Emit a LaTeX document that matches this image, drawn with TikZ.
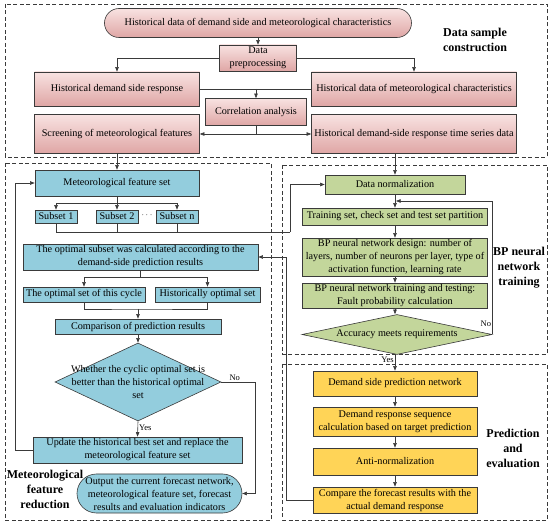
\documentclass[tikz,border=0pt]{standalone}
\usepackage{fontspec}
\setmainfont{Liberation Serif}
\usepackage{xcolor}
\definecolor{cLine}{HTML}{3A3A3A}
\definecolor{cPinkL}{HTML}{F8E2E1}
\definecolor{cPinkD}{HTML}{DFA6A5}
\definecolor{cBlue}{HTML}{93CDDD}
\definecolor{cGreen}{HTML}{C3D69B}
\definecolor{cYellow}{HTML}{FFD457}
\usepackage{tikz}
\usetikzlibrary{positioning,arrows.meta,shapes.geometric,calc}
\tikzset{
  node-base/.style={draw=cLine,line width=0.6pt,align=center,inner sep=1pt,
    font=\fontsize{10.2}{13}\selectfont},
  node-pink/.style={node-base,top color=cPinkL,bottom color=cPinkD},
  node-blue/.style={node-base,fill=cBlue},
  node-green/.style={node-base,fill=cGreen},
  node-yellow/.style={node-base,fill=cYellow},
  node-diamond/.style={diamond,inner sep=0pt},
  node-text/.style={align=center,inner sep=0pt,font=\fontsize{10.2}{13}\selectfont},
  group-box/.style={dashed,line width=0.8pt,draw=cLine,dash pattern=on 4pt off 2.5pt},
  group-label/.style={align=center,font=\fontsize{12}{15}\selectfont\bfseries},
  arrow/.style={-{Triangle[length=1.6mm,width=1.2mm]},line width=0.6pt,draw=cLine},
  link/.style={line width=0.6pt,draw=cLine},
  tag/.style={font=\fontsize{8.5}{9}\selectfont,inner sep=1pt},
}

\begin{document}
\begin{tikzpicture}[x=1pt,y=-1pt]
  \useasboundingbox (0,0) rectangle (550,524);
  % dashed groups
  \draw[group-box] (5,4) rectangle (547,157);
  \draw[group-box] (5,163) rectangle (271,520);
  \draw[group-box] (282,165) rectangle (547,354);
  \draw[group-box] (282,364) rectangle (547,520);
  \node[group-label] (lbl-data) at (475,40) {Data sample\\construction};
  \node[group-label] (lbl-bp) at (519,268) {BP neural\\network\\training};
  \node[group-label] (lbl-pred) at (513,448) {Prediction\\and\\evaluation};
  \node[group-label] (lbl-red) at (45,489) {Meteorological\\feature\\reduction};

  % data sample construction
  \node[node-pink,rounded corners=14.5pt,minimum width=307pt,minimum height=29pt] (hist-all) at (258,23)
    {Historical data of demand side and meteorological characteristics};
  \node[node-pink,minimum width=77pt,minimum height=26pt] (prep) at (258,58) {Data\\preprocessing};
  \node[node-pink,minimum width=165pt,minimum height=34pt] (hist-dsr) at (117,89) {Historical demand side response};
  \node[node-pink,minimum width=205pt,minimum height=34pt] (hist-met) at (414,89) {Historical data of meteorological characteristics};
  \node[node-pink,minimum width=101pt,minimum height=27pt] (corr) at (256,112) {Correlation analysis};
  \node[node-pink,minimum width=165pt,minimum height=39pt] (screen) at (117,134) {Screening of meteorological features};
  \node[node-pink,minimum width=205pt,minimum height=39pt] (series) at (414,134) {Historical demand-side response time series data};

  % meteorological feature reduction
  \node[node-blue,minimum width=164pt,minimum height=26pt] (featset) at (117,183) {Meteorological feature set};
  \node[node-blue,minimum width=42pt,minimum height=13pt] (sub1) at (56,216.5) {Subset 1};
  \node[node-blue,minimum width=42pt,minimum height=13pt] (sub2) at (117,216.5) {Subset 2};
  \node[node-blue,minimum width=42pt,minimum height=13pt] (subn) at (177,216.5) {Subset n};
  \node[font=\fontsize{9}{10}\selectfont] (dots) at (147,215.5) {$\cdots$};
  \node[node-blue,minimum width=235pt,minimum height=26pt] (optimal) at (140.5,257)
    {The optimal subset was calculated according to the\\demand-side prediction results};
  \node[node-blue,minimum width=122pt,minimum height=15pt] (cycle) at (84,294.5) {The optimal set of this cycle};
  \node[node-blue,minimum width=105pt,minimum height=15pt] (histopt) at (207.5,294.5) {Historically optimal set};
  \node[node-blue,minimum width=166pt,minimum height=15pt] (cmp-pred) at (138,326.5) {Comparison of prediction results};
  \node[node-blue,node-diamond,aspect=2.13,minimum width=166pt,minimum height=78pt] (better) at (138,382) {};
  \node[node-text] (better-txt) at (better)
    {Whether the cyclic optimal set is\\better than the historical optimal\\set};
  \node[node-blue,minimum width=209pt,minimum height=26pt] (update) at (137.5,450)
    {Update the historical best set and replace the\\meteorological feature set};
  \node[node-blue,rounded corners=19.5pt,minimum width=165pt,minimum height=39pt] (output) at (159.5,493.5)
    {Output the current forecast network,\\meteorological feature set, forecast\\results and evaluation indicators};

  % BP neural network training
  \node[node-green,minimum width=140pt,minimum height=19pt] (norm) at (395,184.5) {Data normalization};
  \node[node-green,minimum width=185pt,minimum height=17pt] (part) at (395,216.5) {Training set, check set and test set partition};
  \node[node-green,minimum width=185pt,minimum height=38pt] (design) at (395,257)
    {BP neural network design: number of\\layers, number of neurons per layer, type of\\activation function, learning rate};
  \node[node-green,minimum width=185pt,minimum height=25pt] (train) at (395,295.5)
    {BP neural network training and testing:\\Fault probability calculation};
  \node[node-green,node-diamond,aspect=4.75,minimum width=190pt,minimum height=40pt] (acc) at (397,334.5) {};
  \node[node-text] (acc-txt) at (acc) {Accuracy meets requirements};

  % prediction and evaluation
  \node[node-yellow,minimum width=164pt,minimum height=25pt] (dsnet) at (395,383.5) {Demand side prediction network};
  \node[node-yellow,minimum width=164pt,minimum height=29pt] (seq) at (395,421.5)
    {Demand response sequence\\calculation based on target prediction};
  \node[node-yellow,minimum width=164pt,minimum height=27pt] (antin) at (395,461.5) {Anti-normalization};
  \node[node-yellow,minimum width=164pt,minimum height=26pt] (cmp-res) at (395,500)
    {Compare the forecast results with the\\actual demand response};

  % helper points
  \coordinate (corr-split) at (256,134);
  \coordinate (feat-split) at (117,203);
  \coordinate (sub-merge) at (290,232);
  \coordinate (opt-split) at (140.5,277);
  \coordinate (opt-merge) at (138,309);
  \coordinate (no-bend) at (255,382);
  \coordinate (up-left) at (15,450);
  \coordinate (acc-back) at (396,201);
  \coordinate (cmp-left) at (286,500);

  % connectors: data sample construction
  \draw[arrow] (hist-all) -- (prep);
  \draw[arrow] (prep.west) -| (hist-dsr.north);
  \draw[arrow] (prep.east) -| (hist-met.north);
  \draw[link] (hist-dsr.east) -- (hist-met.west);
  \draw[arrow] (corr.north |- hist-dsr.east) -- (corr.north);
  \draw[link] (corr.south) -- (corr-split);
  \draw[arrow] (corr-split) -- (screen.east);
  \draw[arrow] (corr-split) -- (series.west);
  \draw[arrow] (screen) -- (featset);
  \draw[arrow] (norm.north |- series.south) -- (norm.north);

  % connectors: feature reduction
  \draw[link] (featset.south) -- (feat-split);
  \draw[arrow] (feat-split) -| (sub1.north);
  \draw[arrow] (feat-split) -- (sub2.north);
  \draw[arrow] (feat-split) -| (subn.north);
  \draw[link] (sub1.south) |- (sub-merge);
  \draw[link] (sub2.south) -- (sub2.south |- sub-merge);
  \draw[link] (subn.south) -- (subn.south |- sub-merge);
  \draw[arrow] (sub-merge) |- (norm.west);
  \draw[link] (optimal.south) -- (opt-split);
  \draw[arrow] (opt-split) -| (cycle.north);
  \draw[arrow] (opt-split) -| (histopt.north);
  \draw[link] (cycle.south) |- (opt-merge) -| (histopt.south);
  \draw[arrow] (opt-merge) -- (cmp-pred.north);
  \draw[arrow] (cmp-pred) -- (better);
  \draw[arrow] (better.east) -- node[tag,above,pos=0.4]{No} (no-bend) |- (output.east);
  \draw[arrow] (better.south) -- node[tag,right,pos=0.45]{Yes} (update.north);
  \draw[arrow] (update.west) -- (up-left) |- (featset.west);

  % connectors: BP training
  \draw[arrow] (norm) -- (part);
  \draw[arrow] (part) -- (design);
  \draw[arrow] (design) -- (train);
  \draw[arrow] (train.south) -- (train.south |- acc.north);
  \draw[arrow] (acc.east) |- node[tag,left,pos=0.04]{No} (acc-back);
  \draw[arrow] (dsnet.north |- acc.south) -- node[tag,left,pos=0.3]{Yes} (dsnet.north);

  % connectors: prediction
  \draw[arrow] (dsnet) -- (seq);
  \draw[arrow] (seq) -- (antin);
  \draw[arrow] (antin) -- (cmp-res);
  \draw[arrow] (cmp-res.west) -- (cmp-left) |- (optimal.east);
\end{tikzpicture}
\end{document}
